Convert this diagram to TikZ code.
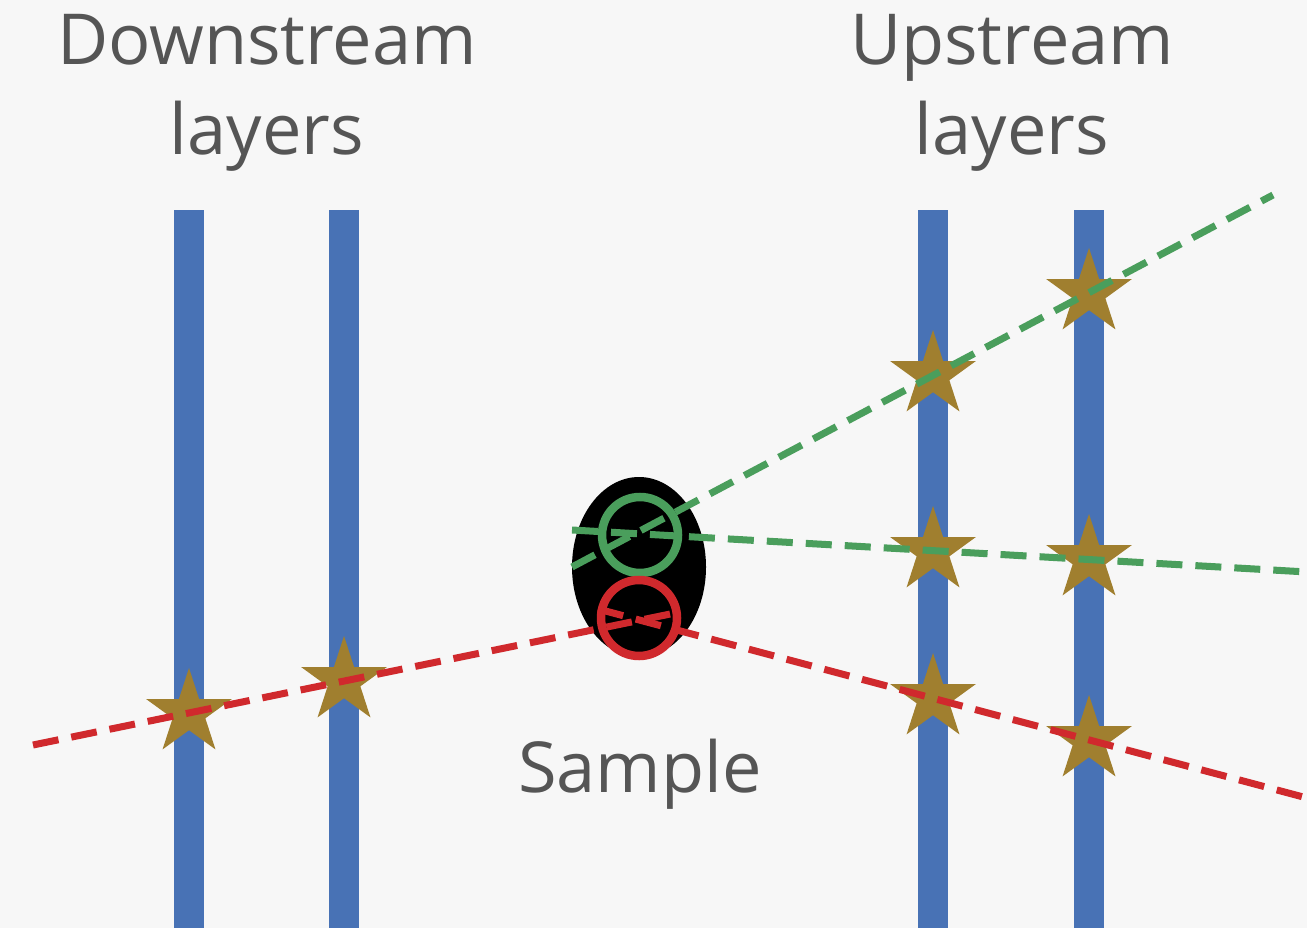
\documentclass[tikz,border=0pt]{standalone}
\usepackage{fontspec}
\setmainfont{Open Sans}
\usetikzlibrary{shapes.geometric}
\definecolor{paper}{RGB}{247,247,247}
\definecolor{layerblue}{RGB}{72,114,181}
\definecolor{trackgreen}{RGB}{74,158,92}
\definecolor{trackred}{RGB}{208,41,45}
\definecolor{hitgold}{RGB}{160,127,47}
\definecolor{labelgrey}{RGB}{85,85,85}
\tikzset{
  hit/.style={star, star points=5, star point ratio=2.618, fill=hitgold, draw=none, minimum size=0.9cm, inner sep=0pt},
  track/.style={line width=0.07cm, dash pattern=on 0.26cm off 0.13cm},
  vertex/.style={line width=0.085cm},
  label/.style={text=labelgrey, font=\fontsize{20}{25.6}\selectfont, align=center, inner sep=0pt}
}
\begin{document}
\begin{tikzpicture}[x=0.01cm, y=-0.01cm]
    \fill[paper] (0,0) rectangle (1307,928);
    \useasboundingbox (0,0) rectangle (1307,928);

    % Detector layers
    \foreach \lx in {189, 344, 933, 1089}
        \fill[layerblue] (\lx-15,210) rectangle (\lx+15,928);

    % Labels
    \node[label, anchor=base] (down) at (267,155) {Downstream\\layers};
    \node[label, anchor=base] (up) at (1012,155) {Upstream\\layers};
    \node[label, anchor=base] (sample) at (640,792) {Sample};

    % Hits
    \node[hit] (hd1) at (189,713) {};
    \node[hit] (hd2) at (344,681) {};
    \node[hit] (hg1a) at (933,375) {};
    \node[hit] (hg1b) at (1089,293) {};
    \node[hit] (hg2a) at (933,551) {};
    \node[hit] (hg2b) at (1089,559) {};
    \node[hit] (hr2a) at (933,698) {};
    \node[hit] (hr2b) at (1089,740) {};

    % Sample and vertices
    \fill[black] (639,567) ellipse [x radius=67, y radius=90];
    \draw[vertex, trackgreen] (640,535) circle [radius=38];
    \draw[vertex, trackred] (639,618) circle [radius=38];

    % Track end points
    \coordinate (g1s) at (572,567);
    \coordinate (g1e) at (1273,195);
    \coordinate (g2s) at (572,530);
    \coordinate (g2e) at (1307,572);
    \coordinate (r1s) at (33,745);
    \coordinate (r1e) at (680,612);
    \coordinate (r2s) at (598,609);
    \coordinate (r2e) at (1307,798);

    % Tracks
    \draw[track, trackgreen] (g1s) -- (g1e);
    \draw[track, trackgreen] (g2s) -- (g2e);
    \draw[track, trackred] (r1s) -- (r1e);
    \draw[track, trackred] (r2s) -- (r2e);
\end{tikzpicture}
\end{document}
